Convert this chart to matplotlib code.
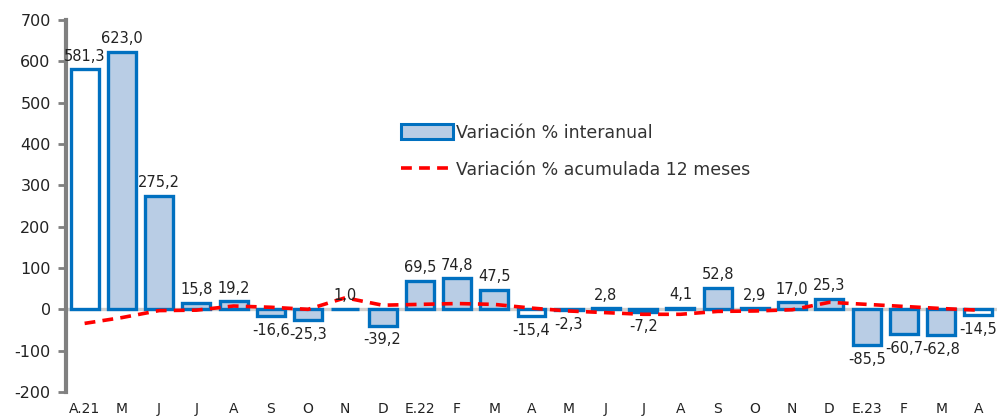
import matplotlib
matplotlib.use("Agg")
import matplotlib.pyplot as plt
from matplotlib.patches import Patch
from matplotlib.lines import Line2D

categories = ["A.21", "M", "J", "J", "A", "S", "O", "N", "D", "E.22", "F", "M",
              "A", "M", "J", "J", "A", "S", "O", "N", "D", "E.23", "F", "M", "A"]
interanual = [581.3, 623.0, 275.2, 15.8, 19.2, -16.6, -25.3, 1.0, -39.2, 69.5, 74.8, 47.5,
              -15.4, -2.3, 2.8, -7.2, 4.1, 52.8, 2.9, 17.0, 25.3, -85.5, -60.7, -62.8, -14.5]
acumulada = [-34, -20, -3, -2, 8, 5, 0, 28, 10, 12, 14, 12,
             3, -4, -8, -12, -12, -5, -4, -1, 17, 12, 7, 2, -2]
white_bars = {0, 12, 24}

plt.rcParams['font.family'] = ['DejaVu Sans']
plt.rcParams['axes.unicode_minus'] = False

fig = plt.figure(figsize=(10.06, 4.19), dpi=100)
ax = fig.add_axes([66/1006, 1 - 392/419, (997-66)/1006, (392-20)/419])

x = list(range(len(categories)))
edge = "#0070C0"
fill = "#B9CDE5"
fills = ["white" if i in white_bars else fill for i in x]
ax.bar(x, interanual, width=0.75, color=fills, edgecolor=edge, linewidth=2.4, zorder=2)
ax.axhline(0, color="#D0D0D0", lw=2.4, zorder=1)
ax.plot(x, acumulada, color="#FF0000", lw=2.6, dashes=(3, 2), zorder=3)

for i, v in enumerate(interanual):
    lab = f"{v:.1f}".replace(".", ",")
    if v >= 0:
        ax.annotate(lab, (i, v), xytext=(0, 4), textcoords="offset points",
                    ha="center", va="bottom", fontsize=10.5, color="#222222")
    else:
        ax.annotate(lab, (i, v), xytext=(0, -5), textcoords="offset points",
                    ha="center", va="top", fontsize=10.5, color="#222222")

ax.set_ylim(-200, 700)
ax.set_yticks(range(-200, 701, 100))
ax.set_xlim(-0.5, len(categories) - 0.5)
ax.set_xticks(x)
ax.set_xticklabels(categories)
ax.tick_params(axis="x", length=0, pad=7, labelsize=10, colors="#222222")
ax.tick_params(axis="y", length=6, width=2, color="#808080", labelsize=11.5,
               labelcolor="#222222", pad=5)
for s in ["top", "right", "bottom"]:
    ax.spines[s].set_visible(False)
ax.spines["left"].set_color("#808080")
ax.spines["left"].set_linewidth(3)

handles = [Patch(facecolor=fill, edgecolor=edge, linewidth=2.2),
           Line2D([0], [0], color="#FF0000", lw=2.6, dashes=(3, 2))]
fig.legend(handles, ["Variación % interanual", "Variación % acumulada 12 meses"],
           loc="upper left", bbox_to_anchor=(385/1006, 1 - 108/419), frameon=False,
           fontsize=12.5, handlelength=3.0, handleheight=1.0, labelspacing=1.1,
           handletextpad=0.2, labelcolor="#333333")

fig.savefig("out.png", dpi=100)
